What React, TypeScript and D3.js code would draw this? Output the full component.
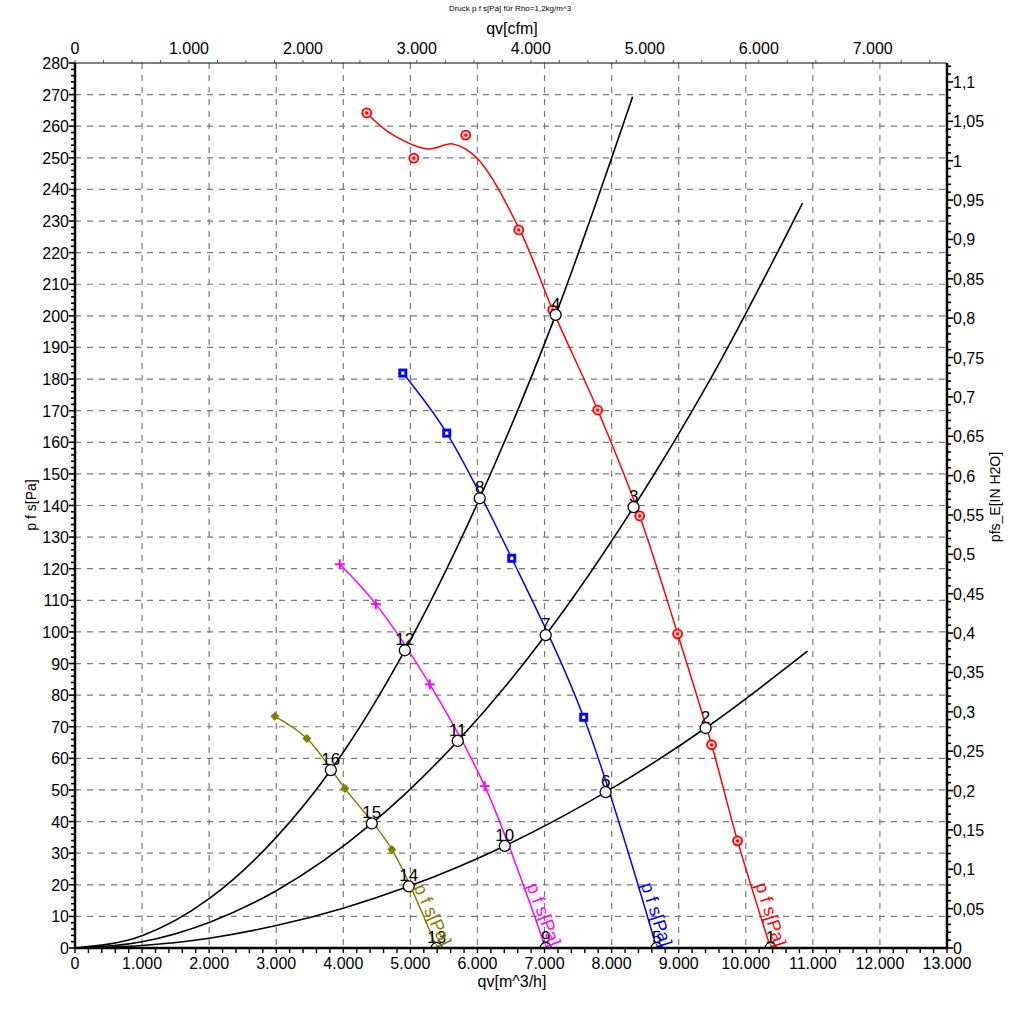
import React from 'react';
import * as d3 from 'd3';

type Pt = [number, number];

// ---------- DATA ----------
const titleText = 'Druck p f s[Pa] für Rho=1,2kg/m^3';

const qMajorTicks = [0, 1000, 2000, 3000, 4000, 5000, 6000, 7000, 8000, 9000, 10000, 11000, 12000, 13000];
const pMajorTicks = [0, 10, 20, 30, 40, 50, 60, 70, 80, 90, 100, 110, 120, 130, 140, 150, 160, 170, 180, 190, 200, 210, 220, 230, 240, 250, 260, 270, 280];
const cfmMajorTicks = [0, 1000, 2000, 3000, 4000, 5000, 6000, 7000];
const inH2OMajorTicks = [0, 0.05, 0.1, 0.15, 0.2, 0.25, 0.3, 0.35, 0.4, 0.45, 0.5, 0.55, 0.6, 0.65, 0.7, 0.75, 0.8, 0.85, 0.9, 0.95, 1, 1.05, 1.1];

// fan curves (qv m^3/h, p Pa)
const redLine: Pt[] = [[4350, 264.2], [4693, 257.9], [5259, 252.8], [5632, 254.4], [5989, 250.0], [6630, 227.2], [7121, 201.9], [7792, 170.2], [8418, 136.7], [8984, 99.4], [9490, 64.3], [9878, 33.9], [10370, 0]];
const redMarkers: Pt[] = [[4350, 264.2], [5051, 249.9], [5826, 257.2], [6615, 227.2], [7121, 201.9], [7792, 170.2], [8418, 136.7], [8984, 99.4], [9490, 64.3], [9878, 33.9]];

const blueLine: Pt[] = [[4887, 181.9], [5542, 162.9], [6511, 123.3], [7584, 73.0], [8671, 0]];
const blueMarkers: Pt[] = [[4887, 181.9], [5542, 162.9], [6511, 123.3], [7584, 73.0]];

const magentaLine: Pt[] = [[3948, 121.4], [4485, 108.8], [5289, 83.4], [6109, 51.2], [7017, 0]];
const magentaMarkers: Pt[] = [[3948, 121.4], [4485, 108.8], [5289, 83.4], [6109, 51.2]];

const oliveLine: Pt[] = [[2980, 73.3], [3457, 66.3], [4023, 50.5], [4723, 31.2], [5393, 0]];
const oliveMarkers: Pt[] = [[2980, 73.3], [3457, 66.3], [4023, 50.5], [4723, 31.2]];

// system curves
const systemA: Pt[] = [[0, 0], [1000, 3.9], [2000, 15.6], [3000, 35.0], [3814, 56.3], [4917, 94.2], [6034, 142.3], [7166, 200.3], [8313, 269.3]];
const systemB: Pt[] = [[0, 0], [1000, 2.0], [2000, 8.1], [3000, 18.1], [4425, 39.4], [5706, 65.5], [7017, 99.0], [8328, 139.5], [9500, 181.0], [10846, 235.7]];
const systemC: Pt[] = [[0, 0], [1000, 0.8], [2000, 3.1], [3000, 7.1], [4000, 12.6], [4976, 19.5], [6407, 32.3], [7911, 49.3], [9401, 69.6], [10921, 93.9]];

// operating points
const opIds = [1, 2, 3, 4, 5, 6, 7, 8, 9, 10, 11, 12, 13, 14, 15, 16];
const opQ = [10370, 9401, 8328, 7166, 8671, 7911, 7017, 6034, 7017, 6407, 5706, 4917, 5393, 4976, 4425, 3814];
const opP = [0, 69.6, 139.5, 200.3, 0, 49.3, 99.0, 142.3, 0, 32.3, 65.5, 94.2, 0, 19.5, 39.4, 56.3];

const curveLabel = 'p f s[Pa]';

// ---------- LAYOUT ----------
const W = 1024;
const H = 1016;
const L = 75, R = 947, T = 63, B = 948;
const M3H_PER_CFM = 1.69901;
const PA_PER_INH2O = 249.089;
const FONT = 'Arial, "Liberation Sans", sans-serif';

const x = d3.scaleLinear().domain([0, 13000]).range([L, R]);
const y = d3.scaleLinear().domain([0, 280]).range([B, T]);
const xCfm = d3.scaleLinear().domain([0, 13000 / M3H_PER_CFM]).range([L, R]);
const yIn = d3.scaleLinear().domain([0, 280 / PA_PER_INH2O]).range([B, T]);

const de = d3.formatLocale({ decimal: ',', thousands: '.', grouping: [3], currency: ['', '€'] });
const fmtInt = de.format(',d');
const fmtIn = de.format(',.2~f');

const smooth = d3.line<Pt>().x(d => x(d[0])).y(d => y(d[1])).curve(d3.curveCatmullRom.alpha(0.5));
const mono = d3.line<Pt>().x(d => x(d[0])).y(d => y(d[1])).curve(d3.curveMonotoneX);

function CurveLabel({ line, color }: { line: Pt[]; color: string }) {
  const a = line[line.length - 2];
  const b = line[line.length - 1];
  const dx = x(b[0]) - x(a[0]);
  const dy = y(b[1]) - y(a[1]);
  const th = Math.atan2(dy, dx);
  const d = [Math.cos(th), Math.sin(th)];
  const u = [Math.sin(th), -Math.cos(th)];
  const bx = x(b[0]) + 4 * u[0] + 1 * d[0];
  const by = y(b[1]) + 4 * u[1] + 1 * d[1];
  return (
    <text transform={`translate(${bx},${by}) rotate(${(th * 180) / Math.PI})`} textAnchor="end" fill={color} fontSize={18} fontFamily={FONT}>
      {curveLabel}
    </text>
  );
}

export default function App() {
  const qMinor = d3.range(0, 13001, 200);
  const pMinor = d3.range(0, 281, 2);
  const cfmMinor = d3.range(0, 13000 / M3H_PER_CFM, 250);
  const inMinor = d3.range(0, 1.125, 0.01);

  return (
    <svg width={W} height={H} style={{ position: 'absolute', left: 0, top: 0, background: '#fff' }} fontFamily={FONT}>
      <defs>
        <clipPath id="plot">
          <rect x={L} y={T} width={R - L} height={B - T} />
        </clipPath>
      </defs>
      <rect x={0} y={0} width={W} height={H} fill="#fff" />

      {/* title */}
      <text x={510} y={11} textAnchor="middle" fontSize={8}>{titleText}</text>
      <text x={512} y={34} textAnchor="middle" fontSize={16}>qv[cfm]</text>

      {/* grid */}
      <g stroke="#7a7a7a" strokeWidth={1.2} strokeDasharray="6,6">
        {qMajorTicks.filter(v => v > 0 && v < 13000).map(v => (
          <line key={'gx' + v} x1={x(v)} x2={x(v)} y1={T} y2={B} />
        ))}
        {pMajorTicks.filter(v => v > 0 && v < 280).map(v => (
          <line key={'gy' + v} x1={L} x2={R} y1={y(v)} y2={y(v)} />
        ))}
      </g>

      <g clipPath="url(#plot)">
        {/* system curves */}
        {[systemA, systemB, systemC].map((s, i) => (
          <path key={'s' + i} d={mono(s) || ''} fill="none" stroke="#000" strokeWidth={1.6} />
        ))}
        {/* fan curves */}
        <path d={smooth(redLine) || ''} fill="none" stroke="#ff0000" strokeWidth={1.5} />
        <path d={smooth(blueLine) || ''} fill="none" stroke="#0000ff" strokeWidth={1.5} />
        <path d={smooth(magentaLine) || ''} fill="none" stroke="#ff00ff" strokeWidth={1.5} />
        <path d={smooth(oliveLine) || ''} fill="none" stroke="#808000" strokeWidth={1.5} />

        {/* markers */}
        {redMarkers.map((m, i) => (
          <g key={'rm' + i} transform={`translate(${x(m[0])},${y(m[1])})`}>
            <circle r={4.5} fill="#ffc8c8" stroke="#ff0000" strokeWidth={1.8} />
            <circle r={1.6} fill="#ff0000" />
          </g>
        ))}
        {blueMarkers.map((m, i) => (
          <g key={'bm' + i} transform={`translate(${x(m[0])},${y(m[1])})`}>
            <rect x={-4.5} y={-4.5} width={9} height={9} fill="#0000ff" />
            <rect x={-1.6} y={-1.6} width={3.2} height={3.2} fill="#fff" />
          </g>
        ))}
        {magentaMarkers.map((m, i) => (
          <g key={'mm' + i} transform={`translate(${x(m[0])},${y(m[1])})`} stroke="#ff00ff" strokeWidth={2}>
            <line x1={-5} x2={5} y1={0} y2={0} />
            <line x1={0} x2={0} y1={-5} y2={5} />
          </g>
        ))}
        {oliveMarkers.map((m, i) => (
          <path key={'om' + i} transform={`translate(${x(m[0])},${y(m[1])})`} d="M0,-4.5L4.5,0L0,4.5L-4.5,0Z" fill="#808000" />
        ))}

        {/* operating points */}
        {opIds.map((id, i) => (
          <circle key={'op' + id} cx={x(opQ[i])} cy={y(opP[i])} r={5.5} fill="#fff" stroke="#000" strokeWidth={1.3} />
        ))}
      </g>

      {opIds.map((id, i) => (
        <text key={'opl' + id} x={x(opQ[i])} y={y(opP[i]) - 5} textAnchor="middle" fontSize={17} fill="#000">{id}</text>
      ))}

      <CurveLabel line={redLine} color="#ff0000" />
      <CurveLabel line={blueLine} color="#0000ff" />
      <CurveLabel line={magentaLine} color="#ff00ff" />
      <CurveLabel line={oliveLine} color="#808000" />

      {/* top axis (cfm) */}
      <line x1={L} x2={R} y1={T} y2={T} stroke="#000" strokeWidth={1.2} />
      <g stroke="#555" strokeWidth={1}>
        {cfmMinor.map(v => (
          <line key={'tc' + v} x1={xCfm(v)} x2={xCfm(v)} y1={T} y2={T - 3} />
        ))}
      </g>
      {cfmMajorTicks.map(v => (
        <text key={'tcl' + v} x={xCfm(v)} y={54} textAnchor="middle" fontSize={16}>{fmtInt(v)}</text>
      ))}

      {/* left axis */}
      <g stroke="#000" strokeWidth={1.6}>
        {pMinor.map(v => (
          <line key={'lm' + v} x1={L} x2={v % 10 === 0 ? L - 6 : L - 4} y1={y(v)} y2={y(v)} />
        ))}
      </g>
      <line x1={L} x2={L} y1={T} y2={B + 1} stroke="#000" strokeWidth={2.5} />
      {pMajorTicks.map(v => (
        <text key={'ll' + v} x={69} y={y(v) + 6} textAnchor="end" fontSize={16}>{v}</text>
      ))}
      <text transform={`translate(36,505) rotate(-90)`} textAnchor="middle" fontSize={14}>p f s[Pa]</text>

      {/* right axis */}
      <g stroke="#000" strokeWidth={1.6}>
        {inMinor.map((v, i) => (
          <line key={'rm' + i} x1={R} x2={i % 5 === 0 ? R + 6 : R + 4} y1={yIn(v)} y2={yIn(v)} />
        ))}
      </g>
      <line x1={R} x2={R} y1={T} y2={B + 1} stroke="#000" strokeWidth={2.5} />
      {inH2OMajorTicks.map(v => (
        <text key={'rl' + v} x={953} y={yIn(v) + 6} textAnchor="start" fontSize={16}>{fmtIn(v)}</text>
      ))}
      <text transform={`translate(1000,497) rotate(-90)`} textAnchor="middle" fontSize={14}>pfs_E[IN H2O]</text>

      {/* bottom axis */}
      <g stroke="#000" strokeWidth={1.4}>
        {qMinor.map(v => (
          <line key={'bm' + v} x1={x(v)} x2={x(v)} y1={B} y2={B + 5} />
        ))}
      </g>
      <line x1={L - 1} x2={R + 1} y1={B} y2={B} stroke="#000" strokeWidth={2.5} />
      {qMajorTicks.map(v => (
        <text key={'bl' + v} x={x(v)} y={969} textAnchor="middle" fontSize={16}>{fmtInt(v)}</text>
      ))}
      <text x={512} y={987} textAnchor="middle" fontSize={16}>qv[m^3/h]</text>
    </svg>
  );
}
